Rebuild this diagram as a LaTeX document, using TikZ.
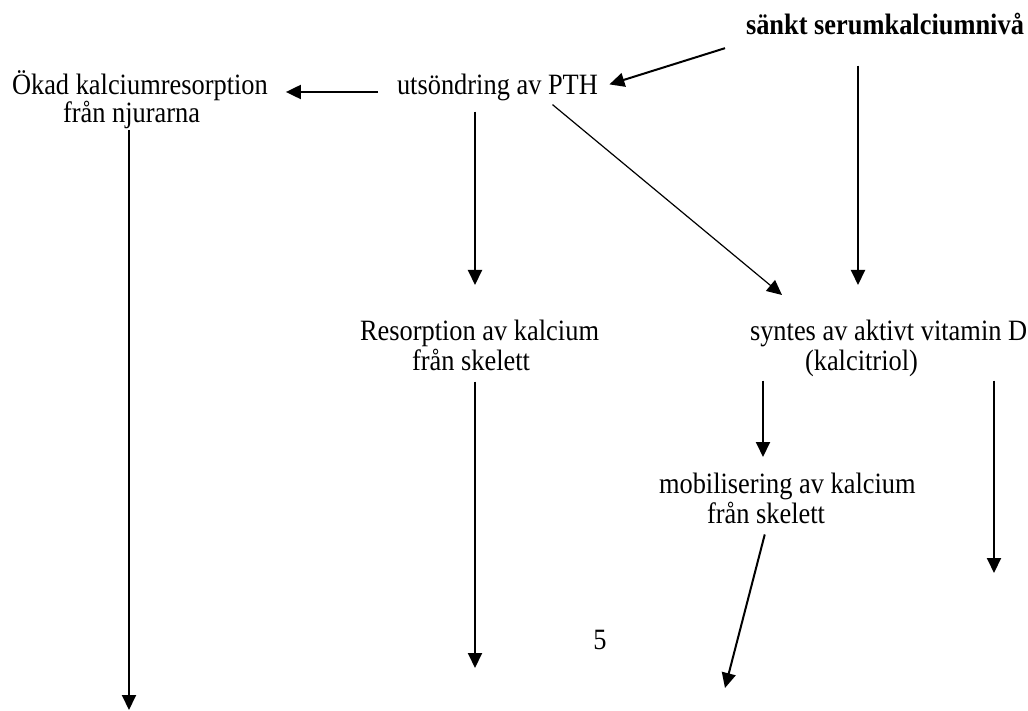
\documentclass[tikz,border=0pt]{standalone}
\usepackage{fontspec}
\setmainfont{Liberation Serif}[FakeStretch=0.895]
\usepackage{tikz}
\usetikzlibrary{arrows.meta, positioning}
\tikzstyle{tekst} = [inner sep=0pt, outer sep=0pt, anchor=base west, text height=10.3pt, text depth=3.3pt]
\tikzstyle{pil} = [->, line width=1pt]

\begin{document}
\begin{tikzpicture}[x=0.5pt, y=-0.5pt, >={Triangle[length=7.5pt, width=7pt]}, font=\fontsize{14.75}{17}\selectfont]
  \useasboundingbox (0,0) rectangle (1028,711);
  \node[tekst] (sank) at (746,35) {\textbf{sänkt serumkalciumnivå}};
  \node[tekst] (pth) at (397,95) {utsöndring av PTH};
  \node[tekst] (okad) at (12,95) {Ökad kalciumresorption};
  \node[tekst] (okadb) at (63,123) {från njurarna};
  \node[tekst] (resorp) at (360,341) {Resorption av kalcium};
  \node[tekst] (resorpb) at (412,370) {från skelett};
  \node[tekst] (vitd) at (750,341) {syntes av aktivt vitamin D};
  \node[tekst] (vitdb) at (805,370) {(kalcitriol)};
  \node[tekst] (mobil) at (659,493) {mobilisering av kalcium};
  \node[tekst] (mobilb) at (707,523) {från skelett};
  \node (sidnr) at (600,640) {5};
  % free ends
  \coordinate (ned2) at (858,285);
  \coordinate (ned4) at (475,285);
  \coordinate (ned5) at (782,295);
  \coordinate (ned6) at (129,710);
  \coordinate (ned7) at (475,668);
  \coordinate (ned8) at (763,457);
  \coordinate (ned9) at (994,573);
  \coordinate (ned10) at (725,688);
  \draw[pil, shorten <=11pt, shorten >=6pt] (sank.south west) -- (pth.east);
  \draw[pil, shorten <=12pt] (sank.south -| ned2) -- (ned2);
  \draw[pil, shorten <=9.5pt, shorten >=9pt] ([yshift=-2pt]pth.west) -- ([yshift=-2pt]okad.east);
  \draw[pil, shorten <=5pt] (pth.south -| ned4) -- (ned4);
  \draw[->, line width=0.6pt] ([shift={(55,3)}]pth.south) -- (ned5);
  \draw[pil] (okadb.south -| ned6) -- (ned6);
  \draw[pil, shorten <=2.5pt] (resorpb.south -| ned7) -- (ned7);
  \draw[pil, shorten <=2pt] (vitdb.south -| ned8) -- (ned8);
  \draw[pil, shorten <=2pt] (vitdb.south -| ned9) -- (ned9);
  \draw[pil, shorten <=2.5pt] (mobilb.south) -- (ned10);
\end{tikzpicture}
\end{document}
